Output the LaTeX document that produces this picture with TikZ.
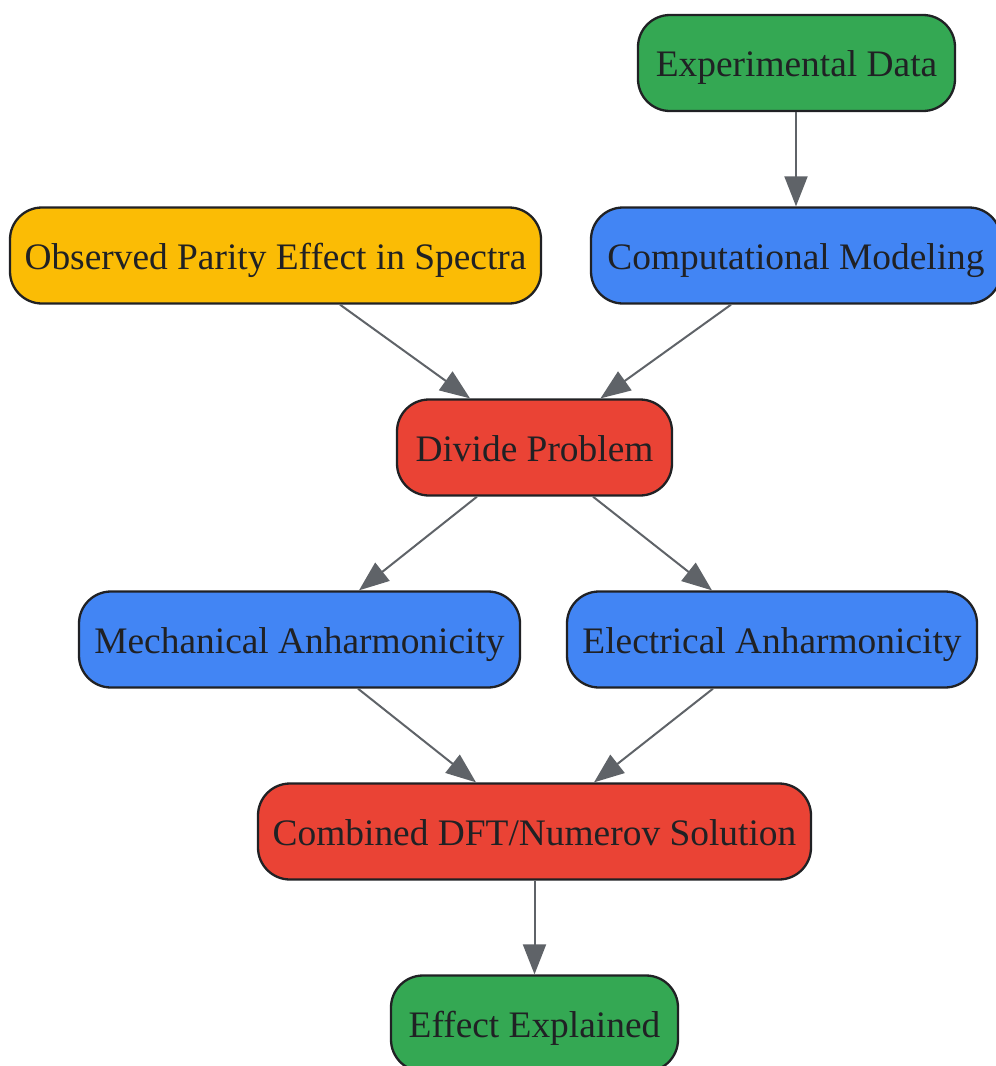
\documentclass[tikz,border=0pt]{standalone}
\usepackage{fontspec}
\setmainfont{Liberation Serif}
\usetikzlibrary{arrows.meta}
\definecolor{gGreen}{HTML}{34A853}
\definecolor{gBlue}{HTML}{4285F4}
\definecolor{gYellow}{HTML}{FBBC05}
\definecolor{gRed}{HTML}{EA4335}
\definecolor{edgeDark}{HTML}{202124}
\definecolor{arrowGray}{HTML}{5F6368}
\tikzset{
  box/.style={draw=edgeDark, line width=1.15pt, rounded corners=16pt,
    minimum height=48pt, inner sep=0pt, text height=15.5pt, text depth=2pt,
    text=edgeDark, font=\fontsize{18.7}{22}\selectfont, anchor=center},
  greenbox/.style={box, fill=gGreen},
  bluebox/.style={box, fill=gBlue},
  yellowbox/.style={box, fill=gYellow},
  redbox/.style={box, fill=gRed},
  conn/.style={draw=arrowGray, line width=1pt,
    -{Triangle[length=15pt, width=11.5pt]}}
}
\begin{document}
\begin{tikzpicture}
\useasboundingbox (0,0) rectangle (498pt,-533pt);
\node[greenbox, minimum width=158.5pt] (exp) at (398.25pt,-31.5pt) {Experimental Data};
\node[bluebox, minimum width=205pt] (comp) at (398pt,-127.75pt) {Computational Modeling};
\node[yellowbox, minimum width=265.5pt] (obs) at (137.75pt,-127.75pt) {Observed Parity Effect in Spectra};
\node[redbox, minimum width=137.5pt] (div) at (267.25pt,-223.75pt) {Divide Problem};
\node[bluebox, minimum width=220.5pt] (mech) at (149.75pt,-319.75pt) {Mechanical Anharmonicity};
\node[bluebox, minimum width=205pt] (elec) at (386pt,-319.75pt) {Electrical Anharmonicity};
\node[redbox, minimum width=276.5pt] (comb) at (267.25pt,-415.75pt) {Combined DFT/Numerov Solution};
\node[greenbox, minimum width=143.5pt] (eff) at (267.25pt,-511.75pt) {Effect Explained};

\draw[conn] (exp.south -| comp.north) -- (comp.north);
\draw[conn] ([xshift=32.25pt]obs.south) -- ([xshift=-32.25pt]div.north);
\draw[conn] ([xshift=-32.5pt]comp.south) -- ([xshift=33pt]div.north);
\draw[conn] ([xshift=-28.75pt]div.south) -- ([xshift=29.75pt]mech.north);
\draw[conn] ([xshift=29.25pt]div.south) -- ([xshift=-30pt]elec.north);
\draw[conn] ([xshift=29.25pt]mech.south) -- ([xshift=-29.25pt]comb.north);
\draw[conn] ([xshift=-29.5pt]elec.south) -- ([xshift=29.75pt]comb.north);
\draw[conn] (comb.south) -- (eff.north);
\end{tikzpicture}
\end{document}
